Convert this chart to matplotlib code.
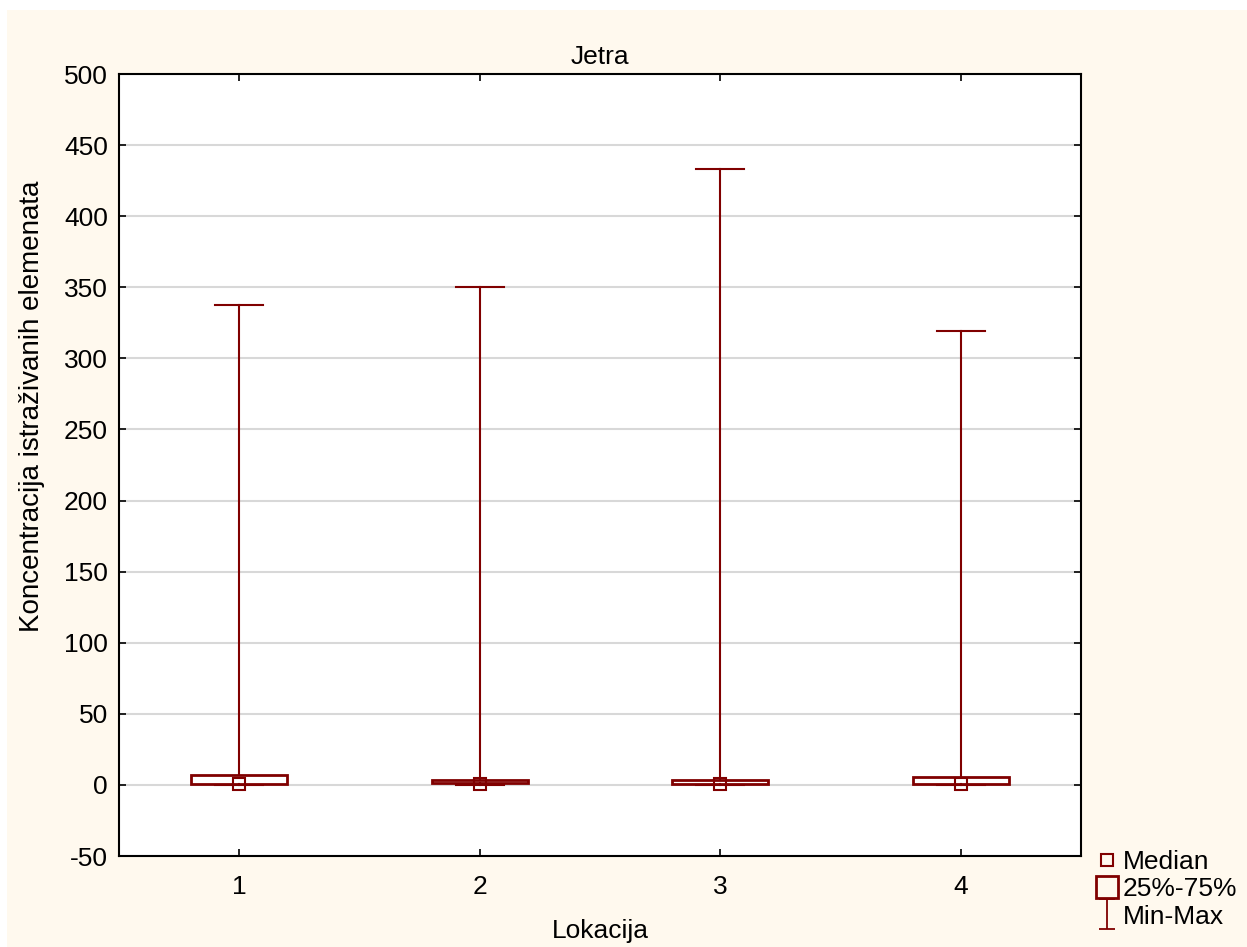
import matplotlib
matplotlib.use("Agg")
import matplotlib.pyplot as plt
from matplotlib.patches import Rectangle
from matplotlib.lines import Line2D
from matplotlib.path import Path
import numpy as np

plt.rcParams['font.family'] = ['Liberation Sans', 'DejaVu Sans']
plt.rcParams['axes.unicode_minus'] = False

# data
locations = [1, 2, 3, 4]
medians = [0.7, 0.7, 0.6, 0.7]
q1 = [0.9, 1.0, 0.7, 0.7]
q3 = [7.2, 3.8, 3.3, 5.4]
mins = [0.1, 0.1, 0.1, 0.1]
maxs = [337.5, 350.5, 433.0, 319.5]
yticks = [-50, 0, 50, 100, 150, 200, 250, 300, 350, 400, 450, 500]

RED = '#800000'
CREAM = '#FFF9EE'
FS = 19

fig = plt.figure(figsize=(12.47, 9.47), dpi=100)
fig.patch.set_facecolor('white')
fig.patches.append(Rectangle((7 / 1247, 0), 1, 1 - 10 / 947, transform=fig.transFigure,
                             facecolor=CREAM, edgecolor='none', zorder=-10))

ax = fig.add_axes([119 / 1247, 91 / 947, 962 / 1247, 782 / 947])
ax.set_facecolor('white')

box_w = 0.4
cap_w = 0.2
for x, lo, a, m, b, hi in zip(locations, mins, q1, medians, q3, maxs):
    ax.plot([x, x], [b, hi], color=RED, lw=1.5, zorder=3)
    ax.plot([x, x], [lo, a], color=RED, lw=1.5, zorder=3)
    ax.plot([x - cap_w / 2, x + cap_w / 2], [hi, hi], color=RED, lw=1.5, zorder=3)
    ax.plot([x - cap_w / 2, x + cap_w / 2], [lo, lo], color=RED, lw=1.5, zorder=3)
    ax.add_patch(Rectangle((x - box_w / 2, a), box_w, b - a, facecolor='none',
                           edgecolor=RED, lw=2, zorder=4))
    ax.plot(x, m, marker='s', ms=9, mfc='none', mec=RED, mew=1.5, zorder=5)

ax.set_xlim(0.5, 4.5)
ax.set_ylim(-50, 500)
ax.set_xticks(locations)
ax.set_yticks(yticks)
ax.tick_params(direction='in', length=5, width=1.2, labelsize=FS,
               top=True, right=True)
ax.tick_params(axis='x', pad=14)
ax.tick_params(axis='y', pad=8)
ax.yaxis.grid(True, color='#d8d8d8', lw=1.5)
ax.set_axisbelow(True)
for s in ax.spines.values():
    s.set_linewidth(1.5)

ax.set_title('Jetra', fontsize=FS, pad=7)
ax.set_xlabel('Lokacija', fontsize=FS, labelpad=14)
ax.set_ylabel('Koncentracija istraživanih elemenata', fontsize=FS + 1)
ax.yaxis.set_label_coords(-0.077, 0.575)

# I-beam marker for the min-max legend entry
ibeam = Path([(-0.5, 1), (0.5, 1), (0, 1), (0, -1), (-0.5, -1), (0.5, -1)],
             [Path.MOVETO, Path.LINETO, Path.MOVETO, Path.LINETO, Path.MOVETO, Path.LINETO])
handles = [
    Line2D([], [], ls='none', marker='s', ms=9, mfc='none', mec=RED, mew=1.5),
    Line2D([], [], ls='none', marker='s', ms=16, mfc='none', mec=RED, mew=2),
    Line2D([], [], ls='none', marker=ibeam, ms=22, mfc='none', mec=RED, mew=1.3),
]
fig.legend(handles, ['Median', '25%-75%', 'Min-Max'], loc='lower left',
           bbox_to_anchor=(1078 / 1247, 0.0), frameon=False, fontsize=FS,
           handlelength=0.8, handletextpad=0.2, labelspacing=0.12, borderaxespad=0.3)

fig.savefig('out.png', dpi=100, facecolor=fig.get_facecolor())
